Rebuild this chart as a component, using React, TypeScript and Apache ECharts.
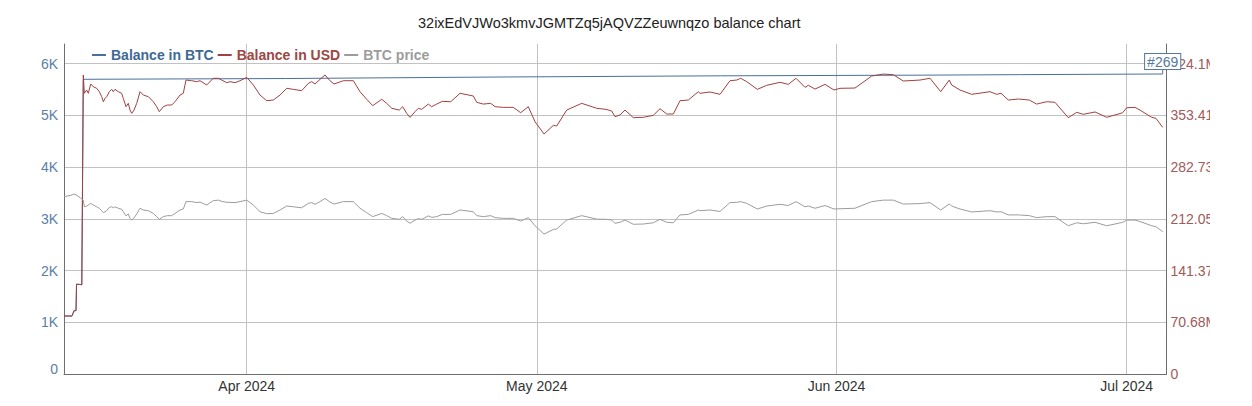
import React, { useEffect, useRef } from "react";
import * as echarts from "echarts";

const FONT = "'Liberation Sans', Arial, Helvetica, sans-serif";

const chartTitle = "32ixEdVJWo3kmvJGMTZq5jAQVZZeuwnqzo balance chart";
const seriesNames = ["Balance in BTC", "Balance in USD", "BTC price"];
const monthNames = ["Jan", "Feb", "Mar", "Apr", "May", "Jun", "Jul", "Aug", "Sep", "Oct", "Nov", "Dec"];
const monthTicks = ["2024-04-01 00:00", "2024-05-01 00:00", "2024-06-01 00:00", "2024-07-01 00:00"];
const xRange = ["2024-03-13 02:30", "2024-07-05 02:50"];
const annotationText = "#269";

// Balance in BTC (left axis)
const btcDates = [
  "2024-03-13 02:30", "2024-03-13 22:20", "2024-03-14 01:00", "2024-03-14 03:20", "2024-03-14 08:20",
  "2024-03-14 09:35", "2024-03-14 22:40", "2024-03-15 02:25", "2024-04-05 00:00", "2024-04-28 00:00",
  "2024-05-20 00:00", "2024-06-10 00:00", "2024-06-20 00:00", "2024-07-04 17:20",
];
const btcBalance = [1121, 1121, 1173, 1224, 1224, 1730, 1730, 5695, 5710, 5740, 5762, 5775, 5785, 5797];

// Balance in USD (millions, right axis) and BTC price (USD)
const dates = [
  "2024-03-13 02:30", "2024-03-13 14:55", "2024-03-13 22:20", "2024-03-14 03:20", "2024-03-14 08:20",
  "2024-03-14 09:35", "2024-03-14 18:15", "2024-03-14 22:40", "2024-03-15 02:25", "2024-03-15 04:55",
  "2024-03-15 10:50", "2024-03-15 14:50", "2024-03-15 20:50", "2024-03-16 03:15", "2024-03-16 11:40",
  "2024-03-16 18:10", "2024-03-17 00:05", "2024-03-17 04:05", "2024-03-17 08:20", "2024-03-17 12:30",
  "2024-03-17 19:00", "2024-03-18 00:55", "2024-03-18 04:55", "2024-03-18 09:05", "2024-03-18 17:20",
  "2024-03-19 01:40", "2024-03-19 05:40", "2024-03-19 12:25", "2024-03-19 18:05", "2024-03-19 22:20",
  "2024-03-20 02:35", "2024-03-20 08:15", "2024-03-20 15:00", "2024-03-20 23:10", "2024-03-21 07:25",
  "2024-03-21 19:50", "2024-03-22 08:10", "2024-03-22 16:35", "2024-03-22 23:05", "2024-03-23 09:00",
  "2024-03-23 18:55", "2024-03-24 05:50", "2024-03-24 14:00", "2024-03-25 02:25", "2024-03-25 10:35",
  "2024-03-25 17:20", "2024-03-26 07:30", "2024-03-26 19:55", "2024-03-27 04:05", "2024-03-27 20:40",
  "2024-03-28 13:05", "2024-03-29 01:30", "2024-03-29 09:55", "2024-03-29 22:20", "2024-03-30 06:30",
  "2024-03-30 18:55", "2024-03-31 07:25", "2024-04-01 00:00", "2024-04-01 16:25", "2024-04-02 09:00",
  "2024-04-03 01:40", "2024-04-03 18:00", "2024-04-04 10:40", "2024-04-05 03:15", "2024-04-05 19:40",
  "2024-04-06 16:30", "2024-04-07 08:55", "2024-04-07 17:20", "2024-04-08 01:30", "2024-04-08 13:55",
  "2024-04-09 02:20", "2024-04-09 14:40", "2024-04-10 00:40", "2024-04-10 23:45", "2024-04-12 00:35",
  "2024-04-12 17:10", "2024-04-13 09:50", "2024-04-14 00:40", "2024-04-14 23:05", "2024-04-15 11:30",
  "2024-04-15 23:55", "2024-04-16 18:45", "2024-04-17 03:10", "2024-04-17 13:05", "2024-04-17 21:20",
  "2024-04-18 09:40", "2024-04-18 17:55", "2024-04-19 02:20", "2024-04-19 18:40", "2024-04-20 03:10",
  "2024-04-20 15:35", "2024-04-21 05:30", "2024-04-22 02:20", "2024-04-23 01:25", "2024-04-24 10:25",
  "2024-04-24 18:50", "2024-04-25 11:10", "2024-04-26 05:35", "2024-04-26 16:20", "2024-04-27 12:55",
  "2024-04-27 21:20", "2024-04-28 13:40", "2024-04-29 08:00", "2024-04-30 02:55", "2024-04-30 19:30",
  "2024-05-01 17:55", "2024-05-02 17:00", "2024-05-03 01:25", "2024-05-04 02:10", "2024-05-05 15:25",
  "2024-05-07 04:40", "2024-05-08 03:45", "2024-05-08 17:55", "2024-05-09 02:05", "2024-05-09 14:30",
  "2024-05-10 02:55", "2024-05-10 23:30", "2024-05-12 00:20", "2024-05-13 01:05", "2024-05-13 17:45",
  "2024-05-14 10:25", "2024-05-15 02:50", "2024-05-15 19:25", "2024-05-16 16:00", "2024-05-17 16:50",
  "2024-05-17 21:05", "2024-05-18 21:55", "2024-05-19 22:40", "2024-05-20 23:30", "2024-05-21 16:05",
  "2024-05-22 02:05", "2024-05-22 17:00", "2024-05-23 19:20", "2024-05-24 18:35", "2024-05-26 03:35",
  "2024-05-27 00:10", "2024-05-27 19:20", "2024-05-28 17:40", "2024-05-29 01:55", "2024-05-29 18:30",
  "2024-05-30 19:20", "2024-05-31 17:35", "2024-06-01 08:30", "2024-06-02 21:40", "2024-06-04 15:10",
  "2024-06-05 19:55", "2024-06-06 20:50", "2024-06-07 21:35", "2024-06-09 15:00", "2024-06-10 15:50",
  "2024-06-11 18:25", "2024-06-12 15:40", "2024-06-12 21:40", "2024-06-13 18:20", "2024-06-14 23:20",
  "2024-06-16 20:50", "2024-06-17 13:25", "2024-06-18 00:05", "2024-06-18 18:10", "2024-06-19 19:00",
  "2024-06-20 22:20", "2024-06-21 16:40", "2024-06-22 17:30", "2024-06-23 14:05", "2024-06-24 06:40",
  "2024-06-24 23:05", "2024-06-25 20:00", "2024-06-26 12:20", "2024-06-27 17:25", "2024-06-28 22:25",
  "2024-06-29 19:00", "2024-06-30 14:05", "2024-07-01 00:00", "2024-07-01 20:35", "2024-07-02 09:00",
  "2024-07-03 14:00", "2024-07-04 00:40", "2024-07-04 17:20",
];

const usdBalanceM = [
  79.2, 79.2, 79.2, 86.5, 86.5, 122.9, 122.3, 121.6, 408.4, 383.4,
  387.9, 383.4, 396.1, 392.4, 390.2, 385.6, 378.8, 371.9, 376.5, 378.8,
  385.6, 388.8, 385.6, 388.8, 385.6, 383.4, 376.5, 365.1, 369.7, 360.5,
  356.0, 360.5, 369.7, 385.6, 381.0, 378.8, 371.9, 365.1, 358.3, 365.1,
  367.4, 367.4, 371.9, 381.0, 383.4, 401.5, 400.6, 399.3, 400.6, 394.7,
  403.9, 403.9, 401.5, 397.9, 399.3, 397.9, 400.6, 405.2, 394.7, 381.0,
  373.3, 374.2, 381.0, 390.2, 388.8, 387.0, 397.0, 399.3, 396.1, 402.5,
  408.4, 400.6, 396.1, 400.6, 400.6, 385.6, 375.2, 366.5, 375.2, 369.7,
  362.9, 360.5, 365.1, 356.0, 350.5, 358.3, 362.9, 361.5, 368.7, 365.1,
  368.7, 372.4, 371.9, 383.4, 379.7, 371.1, 368.7, 369.7, 365.1, 364.2,
  364.2, 364.2, 356.9, 365.1, 344.6, 327.8, 339.6, 338.7, 360.5, 369.7,
  362.9, 361.5, 359.2, 351.5, 353.8, 360.5, 350.1, 350.6, 353.3, 362.4,
  355.1, 355.1, 373.3, 374.2, 385.6, 383.4, 385.2, 382.0, 400.6, 401.5,
  403.9, 399.3, 388.8, 394.3, 398.4, 395.6, 403.9, 391.5, 394.3, 389.2,
  395.6, 387.9, 390.2, 390.6, 407.0, 409.7, 408.8, 400.2, 401.5, 403.9,
  385.6, 401.5, 394.7, 387.9, 382.0, 385.6, 382.0, 383.4, 374.2, 375.6,
  374.2, 368.7, 371.9, 371.1, 360.5, 350.1, 357.4, 354.7, 357.9, 350.6,
  353.8, 356.9, 363.7, 364.2, 360.5, 350.6, 349.2, 336.9,
];

const btcPrice = [
  72000, 72400, 72700, 73100, 72700, 72500, 71700, 70900, 70600, 67900,
  68200, 68600, 69300, 68600, 67900, 67300, 66300, 65500, 65900, 66300,
  67700, 67900, 67500, 67900, 67300, 66900, 65900, 64200, 65000, 63200,
  62500, 63400, 65000, 67300, 66600, 66300, 65200, 63900, 62800, 63900,
  64300, 64300, 65200, 66600, 67000, 70000, 70000, 69600, 69800, 68600,
  70400, 70600, 70100, 69700, 69700, 69600, 70000, 70600, 68600, 65900,
  65100, 65200, 66600, 68200, 67900, 67500, 69300, 69600, 68900, 70000,
  71300, 69800, 69000, 70000, 70000, 67300, 65500, 63900, 65200, 64300,
  63200, 62800, 63900, 62100, 61200, 62500, 63100, 62800, 64200, 63600,
  63900, 64800, 64800, 66600, 65900, 64300, 63900, 64300, 63500, 63200,
  63200, 63200, 62100, 63500, 60200, 56800, 58700, 58900, 62500, 64300,
  62900, 62800, 62500, 61200, 61600, 62500, 60800, 60900, 61400, 62800,
  61600, 61400, 64600, 64800, 66600, 66300, 66600, 66000, 69600, 69700,
  70000, 69300, 67000, 68200, 68900, 68400, 70000, 67900, 68200, 67300,
  68400, 67000, 67100, 67300, 70000, 70600, 70600, 69000, 69200, 69600,
  66600, 69000, 68200, 67000, 65800, 66300, 65800, 65900, 64600, 64600,
  64300, 63500, 63900, 63900, 62000, 60200, 61400, 61000, 61600, 60200,
  60900, 61600, 62500, 62500, 61900, 60200, 59800, 57800,
];

const colors = {
  btcLine: "#4a6f9c",
  btcText: "#3f6995",
  btcAxis: "#5a7ea6",
  usdLine: "#a04040",
  usdText: "#a04545",
  usdAxis: "#a05a5a",
  price: "#9c9c9c",
  grid: "#c2c2c2",
  axis: "#6e6e6e",
  text: "#222222",
  annotation: "#55799c",
};

function toTime(s: string): number {
  const [d, t] = s.split(" ");
  const [Y, M, D] = d.split("-").map(Number);
  const [h, mi] = (t || "00:00").split(":").map(Number);
  return new Date(Y, M - 1, D, h, mi).getTime();
}

export default function App() {
  const ref = useRef<HTMLDivElement>(null);

  useEffect(() => {
    if (!ref.current) return;
    const chart = echarts.init(ref.current, null, { renderer: "svg" });

    const tickValues = monthTicks.map(toTime);
    const btcData = btcDates.map((d, i) => [toTime(d), btcBalance[i]]);
    const usdData = dates.map((d, i) => [toTime(d), usdBalanceM[i]]);
    const priceData = dates.map((d, i) => [toTime(d), btcPrice[i]]);
    const last = btcData[btcData.length - 1];

    const leftMax = 6377;
    const rightInterval = 70.6827;
    const rightMax = (leftMax / 1000) * rightInterval;
    const priceMax = 134000;

    const option: any = {
      animation: false,
      textStyle: { fontFamily: FONT },
      title: {
        text: chartTitle,
        left: 418,
        top: 15,
        padding: 0,
        textStyle: { fontSize: 14.5, fontWeight: "normal", color: colors.text, fontFamily: FONT },
      },
      legend: {
        left: 92,
        top: 48,
        padding: 0,
        icon: "rect",
        itemWidth: 14,
        itemHeight: 2,
        itemGap: 4,
        textStyle: { fontSize: 14, fontWeight: "bold", fontFamily: FONT },
        data: [
          { name: seriesNames[0], textStyle: { color: colors.btcText } },
          { name: seriesNames[1], textStyle: { color: colors.usdText } },
          { name: seriesNames[2], textStyle: { color: colors.price } },
        ],
      },
      grid: { left: 64, right: 43.5, top: 44, bottom: 32, containLabel: false, outerBoundsMode: "none" },
      xAxis: {
        type: "value",
        min: toTime(xRange[0]),
        max: toTime(xRange[1]),
        axisLine: { show: true, onZero: false, lineStyle: { color: colors.axis, width: 1 } },
        axisTick: { show: false, customValues: tickValues },
        axisLabel: {
          customValues: tickValues,
          color: "#333333",
          fontSize: 14,
          fontFamily: FONT,
          margin: 5,
          hideOverlap: false,
          formatter: (v: number) => {
            const d = new Date(v);
            return monthNames[d.getMonth()] + " " + d.getFullYear();
          },
        },
        splitLine: { show: true, lineStyle: { color: colors.grid, width: 1 } },
      },
      yAxis: [
        {
          type: "value",
          position: "left",
          min: 0,
          max: leftMax,
          interval: 1000,
          axisLine: { show: true, lineStyle: { color: colors.axis, width: 1 } },
          axisTick: { show: false },
          axisLabel: {
            color: colors.btcAxis,
            fontSize: 14,
            fontFamily: FONT,
            margin: 6,
            showMaxLabel: false,
            formatter: (v: number) => (v === 0 ? "{zero|0}" : v / 1000 + "K"),
            rich: {
              zero: { color: colors.btcAxis, fontSize: 14, fontFamily: FONT, padding: [0, 0, 10, 0] },
            },
          },
          splitLine: { show: true, showMaxLine: false, lineStyle: { color: colors.grid, width: 1 } },
        },
        {
          type: "value",
          position: "right",
          min: 0,
          max: rightMax,
          interval: rightInterval,
          axisLine: { show: true, lineStyle: { color: colors.axis, width: 1 } },
          axisTick: { show: false },
          axisLabel: {
            color: colors.usdAxis,
            fontSize: 14,
            fontFamily: FONT,
            margin: 4,
            showMaxLabel: false,
            formatter: (v: number) => {
              if (v === 0) return "0";
              return parseFloat(v.toFixed(2)).toString() + "M";
            },
          },
          splitLine: { show: false },
        },
        {
          type: "value",
          show: false,
          min: 0,
          max: priceMax,
          splitLine: { show: false },
        },
      ],
      series: [
        {
          name: seriesNames[0],
          type: "line",
          yAxisIndex: 0,
          data: btcData,
          showSymbol: false,
          symbol: "none",
          color: colors.btcLine,
          lineStyle: { color: colors.btcLine, width: 1 },
          markPoint: {
            silent: true,
            animation: false,
            data: [
              {
                coord: last,
                symbol: "rect",
                symbolSize: [1, 5],
                symbolOffset: [0, -2.5],
                itemStyle: { color: colors.annotation },
                label: {
                  show: true,
                  position: "top",
                  distance: 0,
                  formatter: annotationText,
                  color: colors.annotation,
                  fontSize: 14,
                  fontFamily: FONT,
                  backgroundColor: "#ffffff",
                  borderColor: colors.annotation,
                  borderWidth: 1,
                  padding: [1, 2, 0, 2],
                },
              },
            ],
          },
        },
        {
          name: seriesNames[1],
          type: "line",
          yAxisIndex: 1,
          data: usdData,
          showSymbol: false,
          symbol: "none",
          color: colors.usdLine,
          lineStyle: { color: colors.usdLine, width: 1 },
        },
        {
          name: seriesNames[2],
          type: "line",
          yAxisIndex: 2,
          data: priceData,
          showSymbol: false,
          symbol: "none",
          color: colors.price,
          lineStyle: { color: colors.price, width: 1 },
        },
      ],
    };

    chart.setOption(option);
    return () => chart.dispose();
  }, []);

  return (
    <div
      ref={ref}
      style={{ position: "absolute", left: 0, top: 0, width: 1210, height: 406, overflow: "hidden", background: "#fff" }}
    />
  );
}
